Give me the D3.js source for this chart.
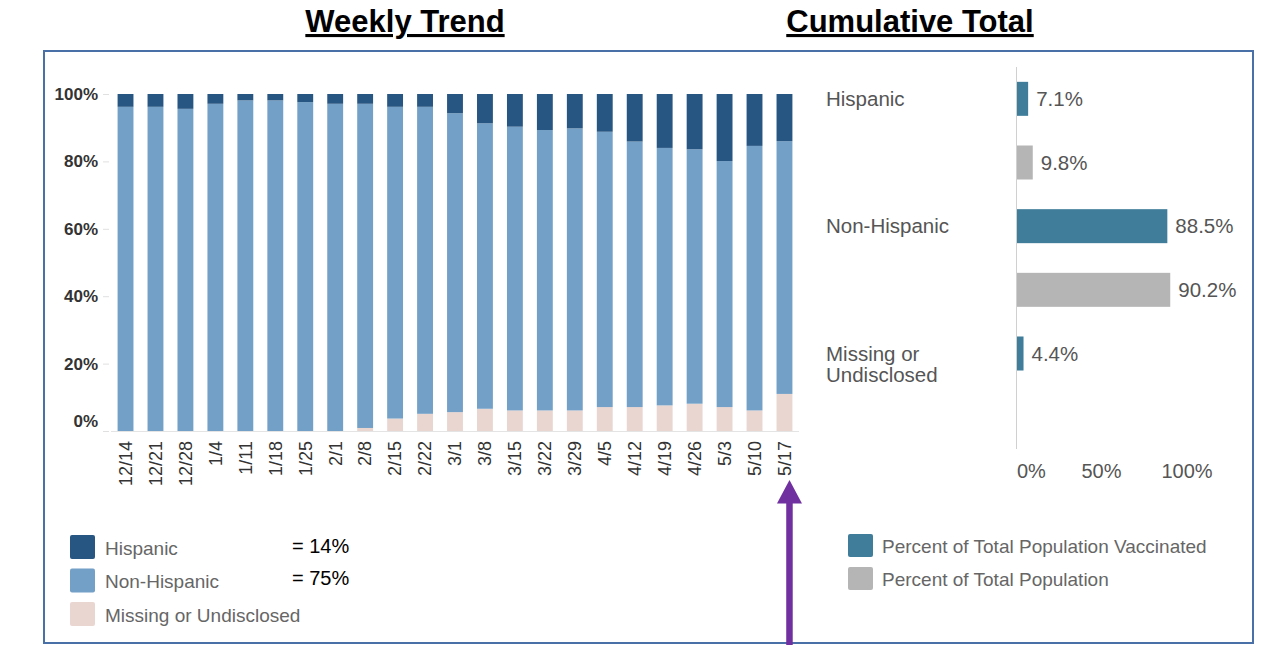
<!DOCTYPE html>
<html>
<head>
<meta charset="utf-8">
<script src="https://cdn.jsdelivr.net/npm/d3@7"></script>
<style>
  body { margin: 0; background: #fff; }
  svg { display: block; }
  text { font-family: "Liberation Sans", Arial, sans-serif; }
</style>
</head>
<body>
<svg></svg>
<script>
// weekly trend (percent of doses by ethnicity)
var weeks = ['12/14','12/21','12/28','1/4','1/11','1/18','1/25','2/1','2/8','2/15','2/22','3/1',
             '3/8','3/15','3/22','3/29','4/5','4/12','4/19','4/26','5/3','5/10','5/17'];
var hispanic    = [3.8, 3.8, 4.4, 2.9, 1.9, 1.9, 2.4, 2.9, 2.9, 3.8, 3.8, 5.7,
                   8.7, 9.7, 10.7, 10.2, 11.2, 14.1, 16.0, 16.4, 19.9, 15.4, 14.0];
var nonHispanic = [96.2, 96.2, 95.6, 97.1, 98.1, 98.1, 97.6, 97.1, 96.2, 92.5, 91.1, 88.7,
                   84.7, 84.2, 83.2, 83.7, 81.7, 78.8, 76.4, 75.5, 73.0, 78.5, 75.0];
var missing     = [0, 0, 0, 0, 0, 0, 0, 0, 0.9, 3.7, 5.1, 5.6,
                   6.6, 6.1, 6.1, 6.1, 7.1, 7.1, 7.6, 8.1, 7.1, 6.1, 11.0];
var yTicks = [0, 20, 40, 60, 80, 100];
var weeklyKeys = ['Hispanic', 'Non-Hispanic', 'Missing or Undisclosed'];
var annotations = ['= 14%', '= 75%'];

// cumulative total
var groups = ['Hispanic', 'Non-Hispanic', 'Missing or Undisclosed'];
var vaccinated = [7.1, 88.5, 4.4];
var population = [9.8, 90.2, null];
var cumTicks = [0, 50, 100];
var cumKeys = ['Percent of Total Population Vaccinated', 'Percent of Total Population'];

var width = 1261, height = 645;
var colors = { 'Hispanic': '#285683', 'Non-Hispanic': '#73a0c7', 'Missing or Undisclosed': '#ead6d0' };
var cumColors = ['#3f7d9a', '#b5b5b5'];

var svg = d3.select('svg')
    .attr('width', width)
    .attr('height', height);

// frame + titles
svg.append('rect')
    .attr('x', 44).attr('y', 51).attr('width', 1209).attr('height', 592)
    .attr('fill', 'none').attr('stroke', '#4a70a8').attr('stroke-width', 2);

svg.selectAll('.title').data([['Weekly Trend', 405], ['Cumulative Total', 910]])
  .enter().append('text')
    .attr('class', 'title')
    .attr('x', d => d[1]).attr('y', 32)
    .attr('text-anchor', 'middle')
    .attr('font-size', 31).attr('font-weight', 'bold')
    .attr('text-decoration', 'underline')
    .attr('fill', '#000')
    .text(d => d[0]);

// ---- weekly stacked bars ----
var rows = weeks.map((w, i) => ({ week: w, 'Hispanic': hispanic[i], 'Non-Hispanic': nonHispanic[i], 'Missing or Undisclosed': missing[i] }));
var stack = d3.stack().keys(['Missing or Undisclosed', 'Non-Hispanic', 'Hispanic']);
var series = stack(rows);

var x = d3.scaleBand().domain(weeks).range([111, 799]).paddingInner(0.47).paddingOuter(0.22);
var y = d3.scaleLinear().domain([0, 100]).range([431, 94]);

svg.append('line')
    .attr('x1', 111).attr('x2', 799).attr('y1', 431.5).attr('y2', 431.5)
    .attr('stroke', '#e4e4e4');

var yAxis = svg.append('g')
    .attr('transform', 'translate(109,0)')
    .call(d3.axisLeft(y).tickValues(yTicks).tickFormat(d => d + '%').tickSize(6).tickPadding(5));
yAxis.select('.domain').remove();
yAxis.selectAll('line').attr('stroke', '#e0e0e0');
yAxis.selectAll('text')
    .attr('font-size', 17).attr('font-weight', 'bold').attr('fill', '#333')
    .attr('dy', d => d === 0 ? '-0.25em' : '0.32em');

svg.append('g').selectAll('g').data(series)
  .enter().append('g')
    .attr('fill', d => colors[d.key])
  .selectAll('rect').data(d => d)
  .enter().append('rect')
    .attr('x', d => x(d.data.week))
    .attr('width', x.bandwidth())
    .attr('y', d => y(d[1]))
    .attr('height', d => y(d[0]) - y(d[1]));

var xAxis = svg.append('g')
    .attr('transform', 'translate(0,431)')
    .call(d3.axisBottom(x).tickSize(0));
xAxis.select('.domain').remove();
xAxis.selectAll('text')
    .attr('transform', 'rotate(-90)')
    .attr('x', -10).attr('y', 0).attr('dy', '0.35em')
    .attr('text-anchor', 'end')
    .attr('font-size', 18).attr('fill', '#333');

// weekly legend
var leg = svg.append('g').selectAll('g').data(weeklyKeys)
  .enter().append('g')
    .attr('transform', (d, i) => `translate(70,${535 + i * 33.5})`);
leg.append('rect')
    .attr('width', 25).attr('height', 24).attr('rx', 2)
    .attr('fill', d => colors[d]);
leg.append('text')
    .attr('x', 35).attr('y', 13).attr('dy', '0.35em')
    .attr('font-size', 19).attr('fill', '#666')
    .text(d => d);

svg.selectAll('.annot').data(annotations)
  .enter().append('text')
    .attr('class', 'annot')
    .attr('x', 292).attr('y', (d, i) => 546 + i * 32).attr('dy', '0.35em')
    .attr('font-size', 20).attr('fill', '#000')
    .text(d => d);

// ---- cumulative bars ----
var y0 = d3.scaleBand().domain(groups).range([67, 449]).padding(0);
var y1 = d3.scaleBand().domain(['vaccinated', 'population']).range([0, y0.bandwidth()])
    .paddingInner(0.466).paddingOuter(0.233);
var xr = d3.scaleLinear().domain([0, 100]).range([1016, 1187]);

svg.append('line')
    .attr('x1', 1016.5).attr('x2', 1016.5).attr('y1', 67).attr('y2', 449)
    .attr('stroke', '#d0d0d0');

var cum = [];
groups.forEach((g, i) => {
  cum.push({ group: g, key: 'vaccinated', value: vaccinated[i], c: 0 });
  cum.push({ group: g, key: 'population', value: population[i], c: 1 });
});
cum = cum.filter(d => d.value != null);

svg.append('g').selectAll('rect').data(cum)
  .enter().append('rect')
    .attr('x', xr(0) + 1)
    .attr('y', d => y0(d.group) + y1(d.key))
    .attr('width', d => xr(d.value) - xr(0) - 1)
    .attr('height', y1.bandwidth())
    .attr('fill', d => cumColors[d.c]);

svg.append('g').selectAll('text').data(cum)
  .enter().append('text')
    .attr('x', d => xr(d.value) + 8)
    .attr('y', d => y0(d.group) + y1(d.key) + y1.bandwidth() / 2)
    .attr('dy', '0.35em')
    .attr('font-size', 20.5).attr('fill', '#555')
    .text(d => d3.format('.1f')(d.value) + '%');

var glab = svg.append('g').selectAll('text').data(groups)
  .enter().append('text')
    .attr('x', 826)
    .attr('y', d => y0(d) + y1('vaccinated') + y1.bandwidth() / 2)
    .attr('font-size', 20.5).attr('fill', '#555');
glab.selectAll('tspan').data(d => d.replace(' or ', ' or\n').split('\n'))
  .enter().append('tspan')
    .attr('x', 826)
    .attr('dy', (d, i) => i === 0 ? '0.35em' : '1.05em')
    .text(d => d);

svg.append('g').selectAll('text').data(cumTicks)
  .enter().append('text')
    .attr('x', d => d === 0 ? xr(d) + 1 : xr(d))
    .attr('y', 471).attr('dy', '0.35em')
    .attr('text-anchor', d => d === 0 ? 'start' : 'middle')
    .attr('font-size', 20).attr('fill', '#555')
    .text(d => d + '%');

var cleg = svg.append('g').selectAll('g').data(cumKeys)
  .enter().append('g')
    .attr('transform', (d, i) => `translate(848,${534 + i * 33})`);
cleg.append('rect')
    .attr('width', 25).attr('height', 23).attr('rx', 2)
    .attr('fill', (d, i) => cumColors[i]);
cleg.append('text')
    .attr('x', 34).attr('y', 12).attr('dy', '0.35em')
    .attr('font-size', 19).attr('fill', '#666')
    .text(d => d);

// purple arrow pointing at the latest week
var ax = x('5/17') + x.bandwidth() / 2 + 5;
svg.append('line')
    .attr('x1', ax).attr('x2', ax).attr('y1', 500).attr('y2', 645)
    .attr('stroke', '#7030a0').attr('stroke-width', 6.5);
svg.append('path')
    .attr('d', `M${ax - 12.5},503.5 L${ax + 12.5},503.5 L${ax},480 Z`)
    .attr('fill', '#7030a0');
</script>
</body>
</html>
